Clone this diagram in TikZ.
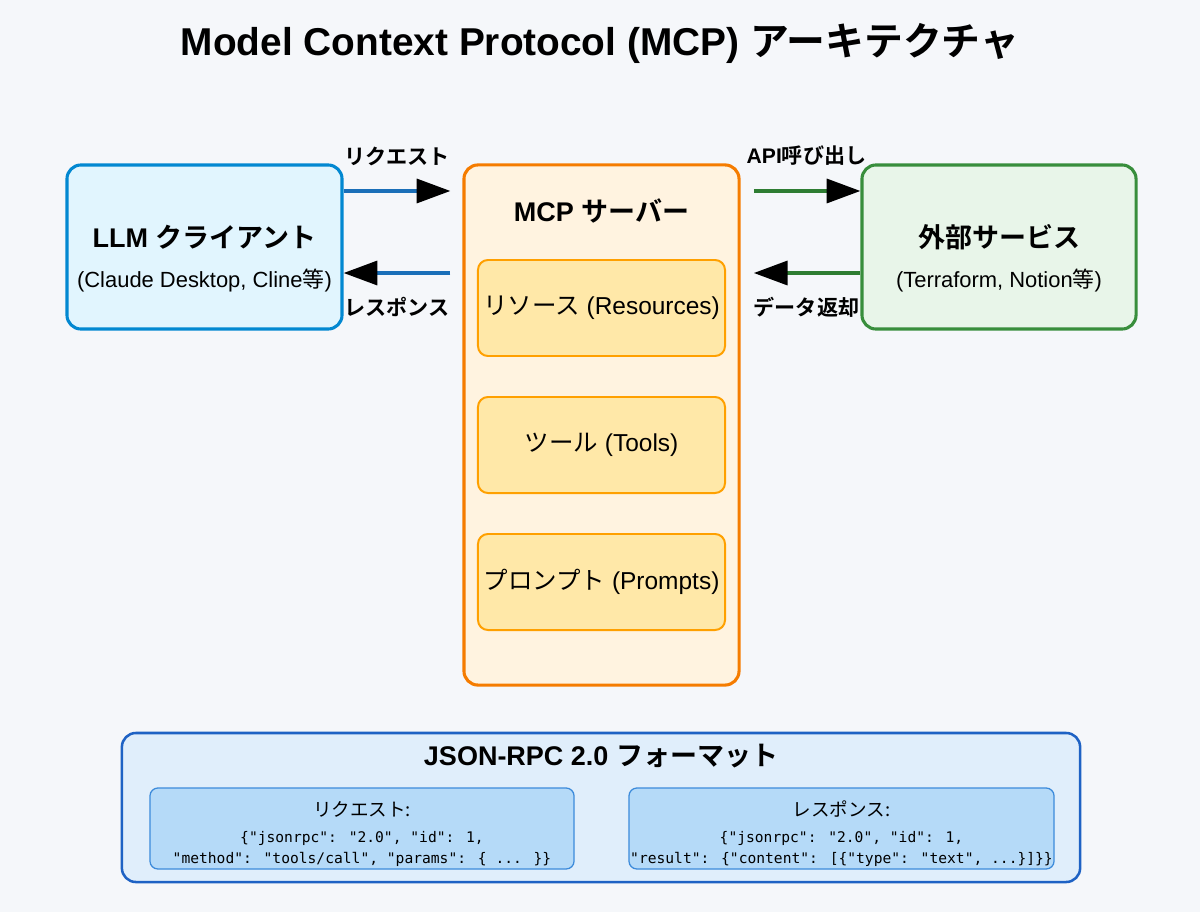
\documentclass[tikz,border=0pt]{standalone}
\usepackage{fontspec}
\setmainfont{Liberation Sans}
\newfontfamily\jp[BoldFont={Noto Sans CJK JP Bold}]{Noto Sans CJK JP}
\newfontfamily\code{DejaVu Sans Mono}
\usetikzlibrary{arrows.meta, positioning}

\definecolor{bg}{HTML}{F5F7FA}
\definecolor{cliline}{HTML}{0288D1}
\definecolor{clifill}{HTML}{E1F5FE}
\definecolor{srvline}{HTML}{F57C00}
\definecolor{srvfill}{HTML}{FFF3E0}
\definecolor{featline}{HTML}{FFA000}
\definecolor{featfill}{HTML}{FFE8A8}
\definecolor{extline}{HTML}{388E3C}
\definecolor{extfill}{HTML}{E8F5E9}
\definecolor{reqline}{HTML}{1A6FB8}
\definecolor{apiline}{HTML}{2E7D32}
\definecolor{jsonline}{HTML}{1E62C4}
\definecolor{jsonfill}{HTML}{E0EEFB}
\definecolor{msgline}{HTML}{3D8BDB}
\definecolor{msgfill}{HTML}{B5DAF8}

\begin{document}
\begin{tikzpicture}[x=0.025cm, y=-0.025cm,
    box/.style={draw, rounded corners=0.35cm, line width=2.2pt},
    feat/.style={draw=featline, fill=featfill, rounded corners=0.25cm, line width=1.4pt,
      minimum width=6.175cm, minimum height=2.4cm, font=\fontsize{17.4}{21}\selectfont},
    msg/.style={draw=msgline, fill=msgfill, rounded corners=0.2cm, line width=0.9pt,
      minimum width=10.6cm, minimum height=2.025cm},
    ttl/.style={font=\fontsize{27.6}{32}\selectfont\bfseries},
    head/.style={font=\fontsize{19.2}{23}\selectfont\bfseries},
    sub/.style={font=\fontsize{15.6}{19}\selectfont},
    lbl/.style={font=\fontsize{15}{18}\selectfont\bfseries},
    msghead/.style={font=\fontsize{13.2}{16}\selectfont},
    json/.style={font=\code\fontsize{10.4}{15}\selectfont, align=center},
    req/.style={draw=reqline, line width=2.6pt, -{Triangle[length=24pt, width=17pt, color=black]}},
    api/.style={draw=apiline, line width=2.6pt, -{Triangle[length=24pt, width=17pt, color=black]}}]
    \fill[bg] (0,0) rectangle (1200,912);

    % Define the nodes
    \node[ttl] (title) at (600,43) {Model Context Protocol (MCP) {\jp アーキテクチャ}};

    \node[box, draw=cliline, fill=clifill, minimum width=6.875cm, minimum height=4.1cm] (llm) at (204.5,247) {};
    \node[head] at (204.5,237) {LLM {\jp クライアント}};
    \node[sub] at (204.5,281) {(Claude Desktop, Cline{\jp 等})};

    \node[box, draw=srvline, fill=srvfill, minimum width=6.875cm, minimum height=13cm] (mcp) at (601.5,425) {};
    \node[head] at (601.5,211) {MCP {\jp サーバー}};
    \node[feat] (res) at (601.5,308) {{\jp リソース} (Resources)};
    \node[feat] (tools) at (601.5,445) {{\jp ツール} (Tools)};
    \node[feat] (prompts) at (601.5,582) {{\jp プロンプト} (Prompts)};

    \node[box, draw=extline, fill=extfill, minimum width=6.85cm, minimum height=4.1cm] (ext) at (999,247) {};
    \node[head] at (999,237) {\jp 外部サービス};
    \node[sub] at (999,281) {(Terraform, Notion{\jp 等})};

    \node[box, draw=jsonline, fill=jsonfill, line width=1.8pt, minimum width=23.95cm, minimum height=3.725cm] (rpc) at (601,807.5) {};
    \node[head] at (601,756) {JSON-RPC 2.0 {\jp フォーマット}};
    \node[msg] (call) at (362,828.5) {};
    \node[msghead] at (362,809) {\jp リクエスト:};
    \node[json] at (362,848.5) {\{"jsonrpc": "2.0", "id": 1,\\"method": "tools/call", "params": \{ ... \}\}};
    \node[msg, minimum width=10.625cm] (reply) at (841.5,828.5) {};
    \node[msghead] at (841.5,809) {\jp レスポンス:};
    \node[json] at (841.5,848.5) {\{"jsonrpc": "2.0", "id": 1,\\"result": \{"content": [\{"type": "text", ...\}]\}\}};

    % Define the connections
    \draw[req, shorten >=0.3cm] ([yshift=1.4cm]llm.east) -- ([yshift=1.4cm]llm.east -| mcp.west)
        node[midway, lbl, xshift=-0.15cm, yshift=0.875cm] {\jp リクエスト};
    \draw[req, shorten <=0.3cm] ([yshift=-0.65cm]llm.east -| mcp.west) -- ([yshift=-0.65cm]llm.east)
        node[midway, lbl, xshift=-0.15cm, yshift=-0.85cm] {\jp レスポンス};
    \draw[api, shorten <=0.33cm] ([yshift=1.4cm]ext.west -| mcp.east) -- ([yshift=1.4cm]ext.west)
        node[midway, lbl, xshift=0.15cm, yshift=0.875cm] {API{\jp 呼び出し}};
    \draw[api, shorten >=0.33cm] ([yshift=-0.65cm]ext.west) -- ([yshift=-0.65cm]ext.west -| mcp.east)
        node[midway, lbl, xshift=0.15cm, yshift=-0.85cm] {\jp データ返却};
\end{tikzpicture}
\end{document}
